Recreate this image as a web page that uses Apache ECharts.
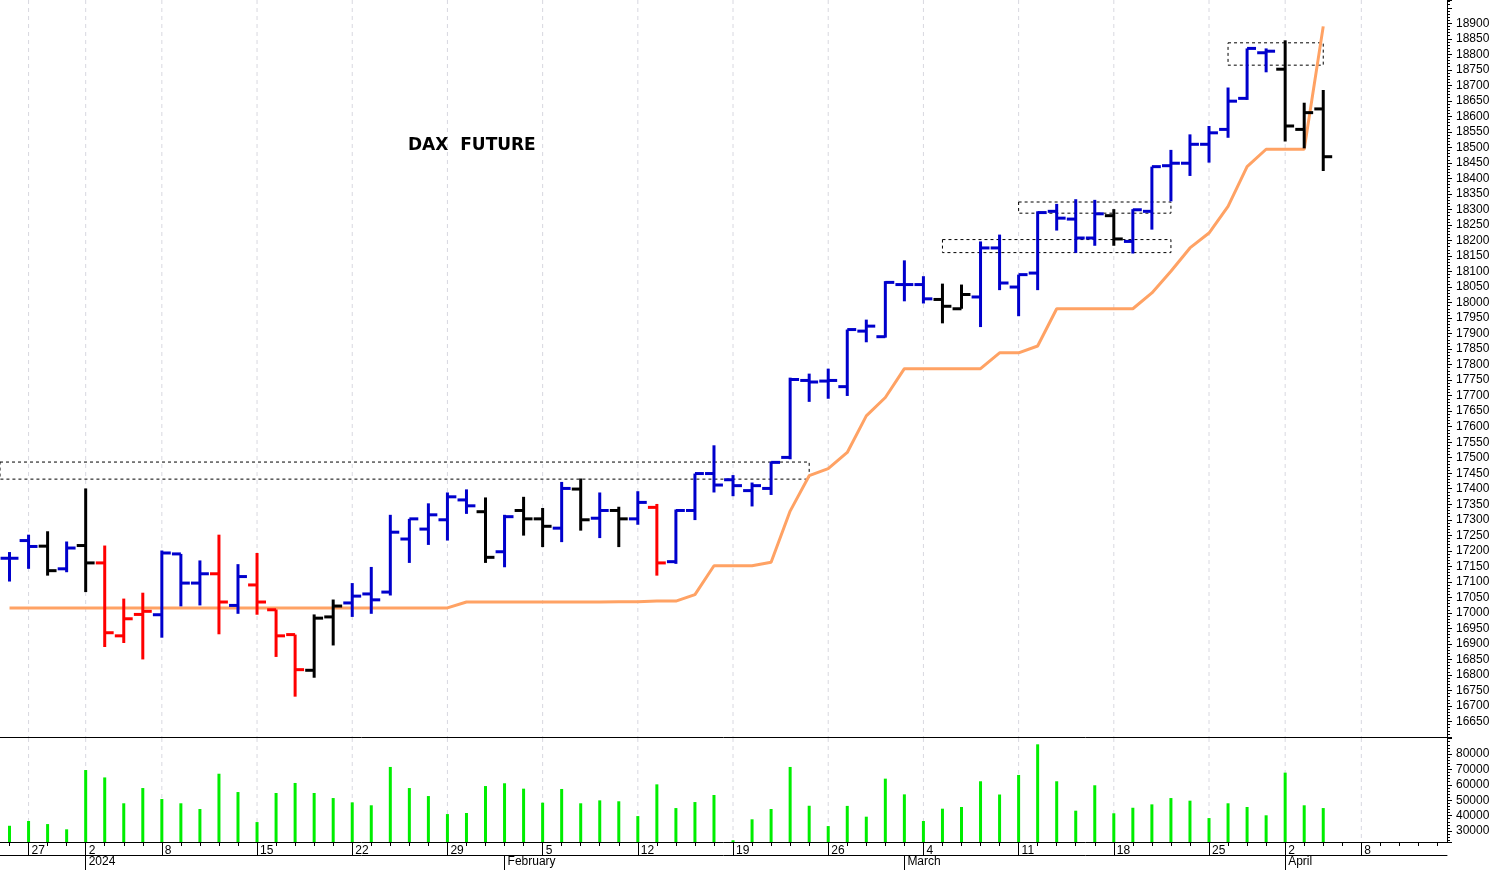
<!DOCTYPE html>
<html><head><meta charset="utf-8">
<script src="https://cdn.jsdelivr.net/npm/echarts@6/dist/echarts.min.js"></script>
<style>html,body{margin:0;padding:0;background:#fff}#c{width:1495px;height:870px}</style>
</head><body><div id="c"></div>
<script>
const dates=['2023-12-22','2023-12-27','2023-12-28','2023-12-29','2024-01-02','2024-01-03','2024-01-04','2024-01-05','2024-01-08','2024-01-09','2024-01-10','2024-01-11','2024-01-12','2024-01-15','2024-01-16','2024-01-17','2024-01-18','2024-01-19','2024-01-22','2024-01-23','2024-01-24','2024-01-25','2024-01-26','2024-01-29','2024-01-30','2024-01-31','2024-02-01','2024-02-02','2024-02-05','2024-02-06','2024-02-07','2024-02-08','2024-02-09','2024-02-12','2024-02-13','2024-02-14','2024-02-15','2024-02-16','2024-02-19','2024-02-20','2024-02-21','2024-02-22','2024-02-23','2024-02-26','2024-02-27','2024-02-28','2024-02-29','2024-03-01','2024-03-04','2024-03-05','2024-03-06','2024-03-07','2024-03-08','2024-03-11','2024-03-12','2024-03-13','2024-03-14','2024-03-15','2024-03-18','2024-03-19','2024-03-20','2024-03-21','2024-03-22','2024-03-25','2024-03-26','2024-03-27','2024-03-28','2024-04-02','2024-04-03','2024-04-04','2024-04-05','2024-04-08','2024-04-09','2024-04-10','2024-04-11','2024-04-12'];
const opens=[17176,17233,17215,17142,17217,17161,16926,16995,16994,17190,17096,17126,17024,17090,17010,16930,16815,16987,17032,17061,17067,17238,17270,17300,17364,17326,17197,17330,17303,17273,17399,17305,17330,17303,17340,17165,17330,17449,17429,17394,17401,17501,17749,17747,17729,17908,17890,18058,18058,18010,17980,18018,18176,18050,18095,18294,18269,18208,18280,18197,18294,18441,18449,18510,18558,18658,18805,18752,18558,18624];
const highs=[17196,17252,17263,17230,17401,17217,17046,17065,17201,17190,17169,17252,17157,17193,17011,16930,16995,17043,17096,17148,17316,17303,17353,17388,17398,17372,17316,17374,17338,17422,17433,17388,17342,17392,17351,17333,17449,17540,17444,17420,17487,17758,17771,17787,17913,17945,18069,18136,18085,18061,18058,18197,18219,18090,18294,18318,18333,18331,18301,18301,18438,18492,18542,18569,18693,18819,18819,18845,18644,18685];
const lows=[17101,17142,17120,17131,17067,16890,16903,16850,16920,17021,17024,16931,16997,16994,16858,16730,16791,16895,16987,16997,17056,17161,17219,17233,17319,17161,17147,17249,17212,17228,17265,17241,17212,17284,17120,17158,17299,17388,17376,17343,17380,17495,17680,17690,17699,17872,17887,18004,17997,17933,17980,17921,18040,17956,18040,18232,18160,18183,18183,18158,18235,18326,18408,18451,18531,18653,18742,18519,18497,18424];
const closes=[17176,17214,17136,17209,17161,16936,16981,17005,17193,17096,17126,17035,17117,17035,16926,16817,16983,17022,17054,17042,17260,17303,17316,17374,17345,17179,17310,17303,17279,17401,17300,17330,17303,17356,17161,17330,17449,17412,17410,17410,17485,17752,17744,17749,17913,17924,18065,18058,18012,17988,18026,18176,18063,18090,18290,18272,18208,18286,18205,18299,18438,18449,18510,18547,18649,18819,18810,18569,18612,18470];
const barColors=['b','b','k','b','k','r','r','r','b','b','b','r','b','r','r','r','k','k','b','b','b','b','b','b','b','k','b','k','k','b','k','b','k','b','r','b','b','b','b','b','b','b','b','b','b','b','b','b','b','k','k','b','b','b','b','b','b','b','k','b','b','b','b','b','b','b','b','k','k','k'];
const stopLine=[17016,17016,17016,17016,17016,17016,17016,17016,17016,17016,17016,17016,17016,17016,17016,17016,17016,17016,17016,17016,17016,17016,17016,17016,17035,17035,17035,17035,17035,17035,17035,17035,17036,17036,17038,17038,17059,17152,17152,17152,17163,17328,17442,17465,17517,17635,17694,17787,17787,17787,17787,17787,17838,17838,17860,17980,17980,17980,17980,17980,18031,18101,18176,18224,18310,18438,18494,18494,18494,18890];
const volumes=[33400,36500,34500,31100,69600,64800,48000,57900,50800,48000,44300,67200,55300,35800,54700,61200,54700,51400,48600,46700,71600,57900,52700,41000,41700,59200,61000,57500,48400,57300,48000,49900,49300,39700,60300,44900,48800,53400,24000,37600,44300,71600,46400,33200,46300,39300,64000,53800,36500,44500,45600,62300,53700,66400,86300,62300,43200,59700,41500,45100,47300,51400,49700,38400,48000,45600,40200,67900,46700,44900];
const boxes=[[0,42,17486,17431],[49,61,18203,18161],[53,61,18324,18288],[64,69,18837,18765]];
const monthNames=['January','February','March','April','May','June','July','August','September','October','November','December'];
const colorMap={b:'#0000cc',r:'#ff0000',k:'#000000'};

const dObj=dates.map(s=>new Date(s+'T00:00:00Z'));
function weekStart(i){if(i===0)return false;const a=dObj[i],p=dObj[i-1];return a.getUTCDay()<p.getUTCDay()||(a-p)>=7*864e5;}
function monthStart(i){if(i===0)return false;return dObj[i].getUTCMonth()!==dObj[i-1].getUTCMonth();}

const ohlc=opens.map((o,i)=>[i,o,highs[i],lows[i],closes[i]]);
const weekIdx=dates.map((d,i)=>i).filter(i=>weekStart(i)).map(i=>[i]);

function gridLineItem(params,api){
  const p=api.coord([api.value(0),0]);const cs=params.coordSys;
  return {type:'line',shape:{x1:p[0],y1:cs.y,x2:p[0],y2:cs.y+cs.height},style:{stroke:'#d8d8e0',lineWidth:1,lineDash:[4,4]},silent:true};
}

const chart=echarts.init(document.getElementById('c'));
const font='Liberation Sans';
const baseX={type:'category',data:dates,boundaryGap:true,splitLine:{show:false}};
chart.setOption({
 animation:false,
 title:{text:'DAX  FUTURE',left:403,top:132,textStyle:{fontFamily:'DejaVu Sans',fontWeight:'bold',fontSize:17,color:'#000'}},
 grid:[{left:0,right:48,top:0,height:737},{left:0,right:48,top:738,height:104}],
 xAxis:[
  Object.assign({},baseX,{gridIndex:0,axisLine:{lineStyle:{color:'#000',width:1}},axisTick:{show:false},axisLabel:{show:false}}),
  Object.assign({},baseX,{gridIndex:1,position:'bottom',axisLine:{lineStyle:{color:'#000',width:1}},
    axisTick:{show:true,interval:0,alignWithLabel:true,length:4,lineStyle:{color:'#000'}},
    axisLabel:{interval:(i)=>weekStart(i),formatter:(v)=>String(new Date(v+'T00:00:00Z').getUTCDate()),align:'left',padding:[0,0,0,3],margin:3,fontFamily:font,fontSize:12,color:'#000'}}),
  Object.assign({},baseX,{gridIndex:1,position:'bottom',axisLine:{show:false},
    axisTick:{show:true,interval:(i)=>weekStart(i),alignWithLabel:true,length:13,lineStyle:{color:'#000'}},axisLabel:{show:false}}),
  Object.assign({},baseX,{gridIndex:1,position:'bottom',offset:13,axisLine:{lineStyle:{color:'#000',width:1}},
    axisTick:{show:true,interval:(i)=>monthStart(i),alignWithLabel:true,length:16,lineStyle:{color:'#000'}},
    axisLabel:{interval:(i)=>monthStart(i),formatter:(v)=>{const d=new Date(v+'T00:00:00Z');return d.getUTCMonth()===0?String(d.getUTCFullYear()):monthNames[d.getUTCMonth()];},align:'left',padding:[0,0,0,3],margin:1,fontFamily:font,fontSize:12,color:'#000'}})
 ],
 yAxis:[
  {type:'value',gridIndex:0,position:'right',min:16600,max:18975,interval:50,
   axisLine:{show:true,lineStyle:{color:'#000'}},axisTick:{show:true,length:5,lineStyle:{color:'#000'}},
   minorTick:{show:true,splitNumber:5,length:3,lineStyle:{color:'#000'}},splitLine:{show:false},
   axisLabel:{formatter:(v)=>(v<16650||v>18900)?'':String(v),fontFamily:font,fontSize:12,color:'#000',margin:9}},
  {type:'value',gridIndex:1,position:'right',min:22860,max:90400,splitNumber:7,
   axisLine:{show:true,lineStyle:{color:'#000'}},axisTick:{show:true,length:5,lineStyle:{color:'#000'}},
   minorTick:{show:true,splitNumber:5,length:3,lineStyle:{color:'#000'}},splitLine:{show:false},
   axisLabel:{showMinLabel:false,showMaxLabel:false,formatter:(v)=>(v<30000||v>80000)?'':String(v),fontFamily:font,fontSize:12,color:'#000',margin:9}}
 ],
 series:[
  {type:'custom',xAxisIndex:0,yAxisIndex:0,z:0,silent:true,data:weekIdx,encode:{x:0},renderItem:gridLineItem},
  {type:'custom',xAxisIndex:1,yAxisIndex:1,z:0,silent:true,data:weekIdx,encode:{x:0},renderItem:gridLineItem},
  {type:'custom',xAxisIndex:0,yAxisIndex:0,z:1,silent:true,data:boxes,encode:{x:[0,1],y:[2,3]},
   renderItem:function(params,api){
     const a=api.coord([api.value(0),api.value(2)]),b=api.coord([api.value(1),api.value(3)]);
     const x1=api.value(0)===0?params.coordSys.x:a[0];
     return {type:'rect',shape:{x:x1,y:a[1],width:b[0]-x1,height:b[1]-a[1]},style:{fill:'none',stroke:'#000',lineWidth:1,lineDash:[3,3]}};
   }},
  {type:'line',xAxisIndex:0,yAxisIndex:0,data:stopLine,symbol:'none',z:3,lineStyle:{color:'#ffa264',width:3}},
  {type:'custom',xAxisIndex:0,yAxisIndex:0,z:4,data:ohlc,encode:{x:0,y:[1,2,3,4]},
   renderItem:function(params,api){
     const i=api.value(0);const col=colorMap[barColors[i]];
     const ph=api.coord([i,api.value(2)]),pl=api.coord([i,api.value(3)]),po=api.coord([i,api.value(1)]),pc=api.coord([i,api.value(4)]);
     const w=api.size([1,0])[0]*0.47;
     const st={stroke:col,lineWidth:3};
     return {type:'group',children:[
       {type:'line',shape:{x1:ph[0],y1:ph[1],x2:pl[0],y2:pl[1]},style:st},
       {type:'line',shape:{x1:po[0]-w,y1:po[1],x2:po[0],y2:po[1]},style:st},
       {type:'line',shape:{x1:pc[0],y1:pc[1],x2:pc[0]+w,y2:pc[1]},style:st}]};
   }},
  {type:'bar',xAxisIndex:1,yAxisIndex:1,data:volumes,barWidth:3,z:4,itemStyle:{color:'#00ee00'}}
 ]
});
</script></body></html>
